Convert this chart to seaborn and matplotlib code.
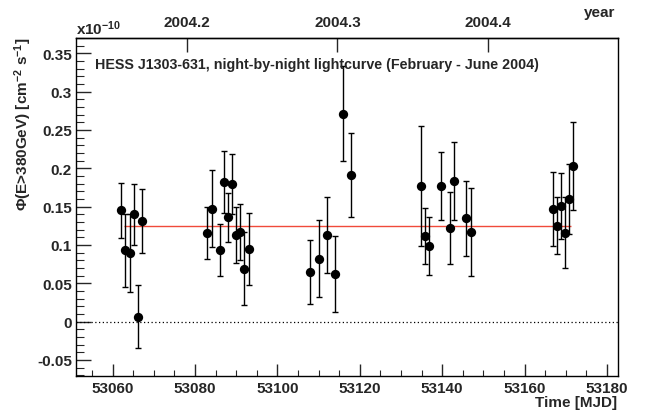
import numpy as np
import pandas as pd
import matplotlib
matplotlib.use("Agg")
import matplotlib.pyplot as plt
import seaborn as sns
from matplotlib.ticker import MultipleLocator, FixedLocator, FuncFormatter

# ---- data (flux in units of 1e-10 cm^-2 s^-1) ----
mjd = [53062.0, 53063.0, 53064.1, 53065.1, 53066.1, 53067.1,
       53082.9, 53084.1, 53086.0, 53087.0, 53088.1, 53089.0, 53089.9, 53091.0, 53091.9, 53093.1,
       53107.9, 53110.0, 53112.0, 53113.9, 53115.9, 53117.9,
       53134.9, 53135.9, 53136.9, 53139.8, 53141.8, 53142.8, 53145.9, 53146.9,
       53166.9, 53167.9, 53168.8, 53169.8, 53170.9, 53171.8]
flux = [0.145, 0.093, 0.090, 0.140, 0.0065, 0.1315,
        0.116, 0.1475, 0.093, 0.182, 0.136, 0.180, 0.113, 0.117, 0.069, 0.095,
        0.065, 0.082, 0.113, 0.062, 0.271, 0.191,
        0.177, 0.1115, 0.099, 0.177, 0.1215, 0.183, 0.135, 0.117,
        0.147, 0.125, 0.151, 0.116, 0.160, 0.203]
flux_err = [0.036, 0.048, 0.051, 0.040, 0.041, 0.042,
            0.034, 0.050, 0.034, 0.040, 0.032, 0.039, 0.037, 0.037, 0.048, 0.047,
            0.042, 0.050, 0.049, 0.050, 0.062, 0.055,
            0.078, 0.037, 0.038, 0.044, 0.047, 0.051, 0.049, 0.057,
            0.048, 0.037, 0.043, 0.046, 0.046, 0.058]
fit_value = 0.1245
fit_range = [53062.7, 53171.2]
year_ticks = [2004.2, 2004.3, 2004.4]

title_text = "HESS J1303-631, night-by-night lightcurve (February - June 2004)"

df = pd.DataFrame({"mjd": mjd, "flux": flux, "err": flux_err})

sns.set_theme(style="ticks")
plt.rcParams["font.family"] = ["Liberation Sans", "DejaVu Sans"]
plt.rcParams["font.weight"] = "bold"
plt.rcParams["mathtext.fontset"] = "custom"
plt.rcParams["mathtext.rm"] = "Liberation Sans:bold"
plt.rcParams["mathtext.bf"] = "Liberation Sans:bold"
plt.rcParams["mathtext.default"] = "rm"

FS = 11
W, H = 651, 414
fig = plt.figure(figsize=(W / 100, H / 100), dpi=100)
ax = fig.add_axes([76 / W, 1 - 377 / H, (618 - 76) / W, (377 - 39) / H])

ax.axhline(0, color="black", lw=0.9, ls=(0, (1, 2)))
ax.hlines(fit_value, fit_range[0], fit_range[1], color="#f04a3a", lw=1.0)
ax.errorbar(df["mjd"], df["flux"], yerr=df["err"], fmt="none", ecolor="black",
            elinewidth=1.0, capsize=2, capthick=1.0, zorder=3)
sns.scatterplot(data=df, x="mjd", y="flux", ax=ax, color="black", s=45,
                edgecolor="black", linewidth=0, zorder=4, legend=False)

ax.set_xlim(53051.1, 53182.7)
ax.set_ylim(-0.071, 0.370)
ax.set_xlabel("")
ax.set_ylabel("")

ax.xaxis.set_major_locator(MultipleLocator(20))
ax.xaxis.set_minor_locator(MultipleLocator(5))
ax.yaxis.set_major_locator(MultipleLocator(0.05))
ax.yaxis.set_minor_locator(MultipleLocator(0.01))
ax.yaxis.set_major_formatter(FuncFormatter(lambda v, p: "%g" % round(v, 4)))

ax.tick_params(axis="x", which="major", direction="in", length=9, width=1, labelsize=FS, pad=3.5,
               top=False)
ax.tick_params(axis="x", which="minor", direction="in", length=4.5, width=0.8, top=False)
ax.tick_params(axis="y", which="major", direction="in", length=11, width=1, labelsize=FS, pad=3,
               right=False)
ax.tick_params(axis="y", which="minor", direction="in", length=5.5, width=0.8, right=False)
for sp in ax.spines.values():
    sp.set_linewidth(1.0)
    sp.set_color("black")
for lab in ax.get_xticklabels() + ax.get_yticklabels():
    lab.set_fontweight("bold")

def m2y(m):
    return 2004 + (np.asarray(m) - 53005.0) / 365.25

def y2m(y):
    return 53005.0 + (np.asarray(y) - 2004) * 365.25

sec = ax.secondary_xaxis("top", functions=(m2y, y2m))
sec.xaxis.set_major_locator(FixedLocator(year_ticks))
sec.xaxis.set_minor_locator(FixedLocator([]))
sec.xaxis.set_major_formatter(FuncFormatter(lambda v, p: "%.1f" % v))
sec.tick_params(axis="x", direction="in", length=10, width=1, labelsize=FS, pad=6.5)
for lab in sec.get_xticklabels():
    lab.set_fontweight("bold")
sec.spines["top"].set_linewidth(1.0)

fig.text(95 / W, 1 - 65 / H, title_text, fontsize=10.3, fontweight="bold", ha="left", va="center")
fig.text(23 / W, 1 - 38 / H, r"$\Phi$(E>380GeV) [cm$^{-2}$ s$^{-1}$]", rotation=90,
         fontsize=FS, fontweight="bold", ha="center", va="top")
fig.text(617 / W, 1 - 403 / H, "Time [MJD]", fontsize=FS, fontweight="bold", ha="right", va="center")
fig.text(615 / W, 1 - 13 / H, "year", fontsize=FS, fontweight="bold", ha="right", va="center")
fig.text(76 / W, 1 - 35 / H, r"x10$^{-10}$", fontsize=FS, fontweight="bold", ha="left", va="baseline")

fig.savefig("out.png", dpi=100)
